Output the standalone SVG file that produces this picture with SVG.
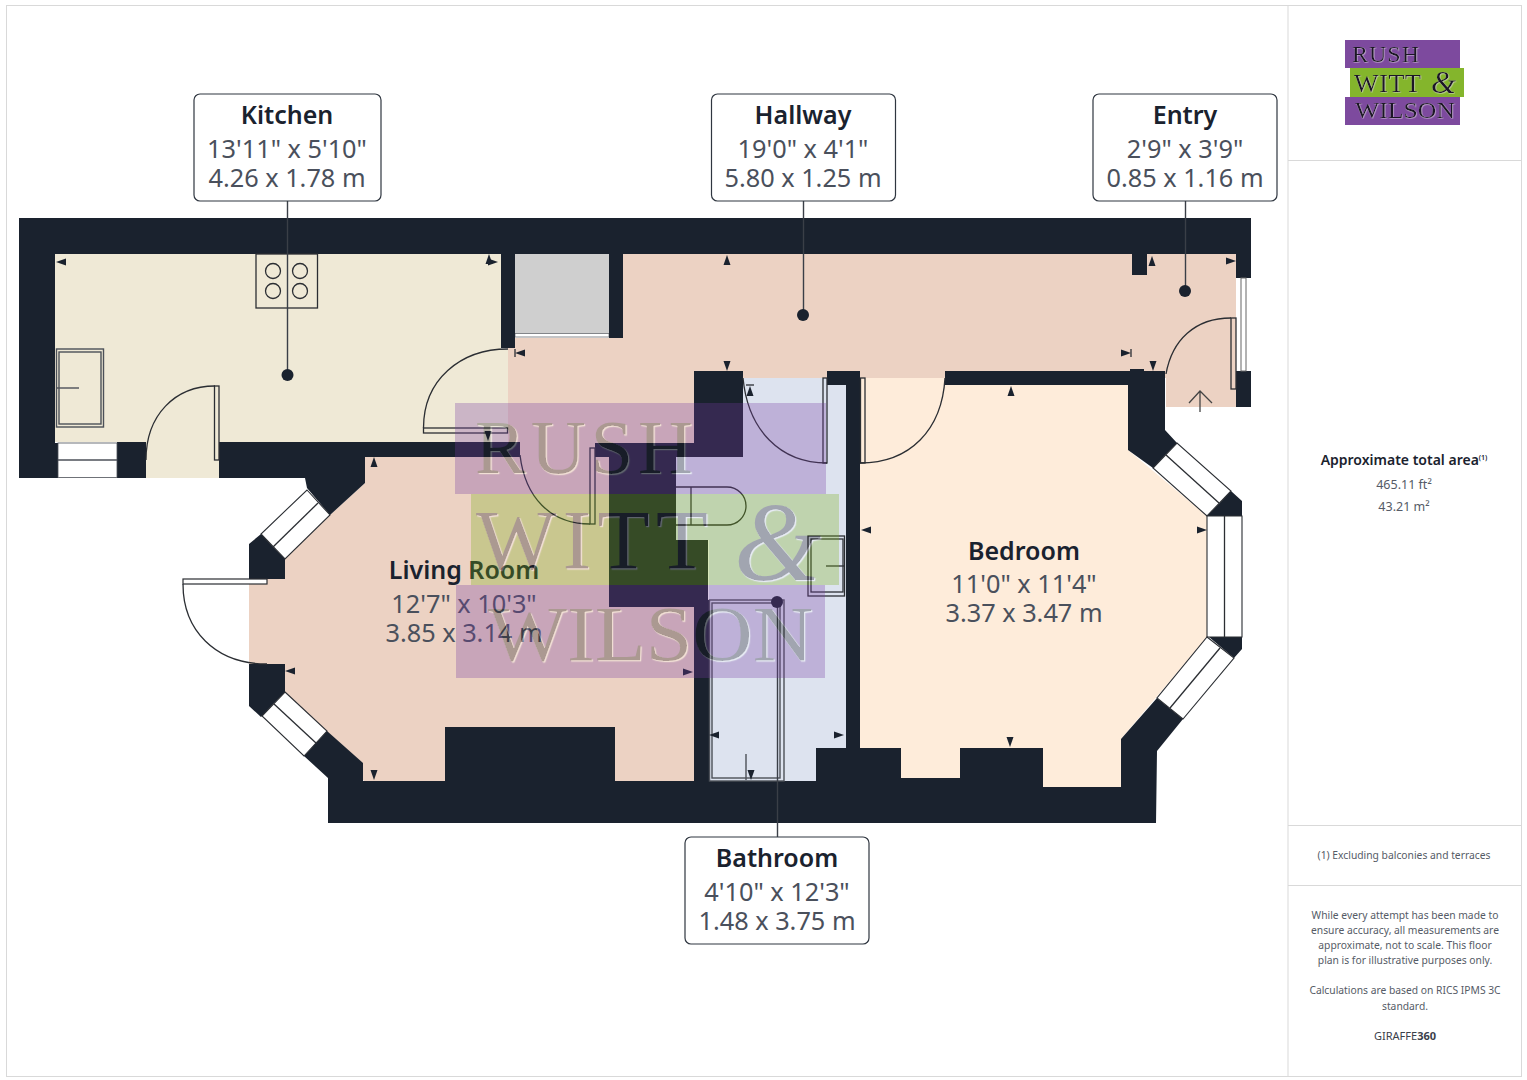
<svg xmlns="http://www.w3.org/2000/svg" width="1527" height="1080" viewBox="0 0 1527 1080">
<style>
text{font-family:"Noto Sans","Open Sans","Liberation Sans",sans-serif;text-anchor:middle}
.w{fill:#1a222e}
.ln{fill:none;stroke:#2b2e33;stroke-width:1.3}
.gl{fill:none;stroke:#4c5058;stroke-width:1.4}
.wn{fill:#fff;stroke:#2b2e33;stroke-width:1.1}
.lead{fill:none;stroke:#3a3f47;stroke-width:1.4}
.dot{fill:#1a222e}
.box{fill:#fff;stroke:#2f3640;stroke-width:1.2}
.t{font-size:25px;font-weight:600;fill:#1a222e}
.d{font-size:25.3px;fill:#4a505c}
.p{font-size:10.3px;fill:#555b66}
.panel{stroke:#d9d9d9;stroke-width:1;fill:none}
.wm{font-family:"Liberation Serif",serif;fill:#16141e;filter:url(#hl);text-anchor:start}
.lg{font-family:"Liberation Serif",serif;fill:#1c1826;filter:url(#hl2);text-anchor:start}
</style>
<defs>
<path id="tri" d="M-5-3.500L5 0L-5 3.500Z" fill="#1a222e"/>
<filter id="hl" x="-5%" y="-5%" width="110%" height="115%"><feDropShadow dx="1.200" dy="1.200" stdDeviation="0.2" flood-color="#ffffff" flood-opacity="1"/></filter>
<filter id="hl2" x="-5%" y="-5%" width="110%" height="115%"><feDropShadow dx="0.6" dy="0.6" stdDeviation="0.2" flood-color="#e8e0ee" flood-opacity="0.7"/></filter>
</defs>
<rect width="1527" height="1080" fill="#fff"/>
<g id="panel">
<rect class="panel" x="6.500" y="5.500" width="1515" height="1071"/>
<path class="panel" d="M1288 5V1076M1288 160.500H1521M1288 825.500H1521M1288 885.500H1521"/>
</g>
<g id="rooms">
<path id="room-kitchen" fill="#efe9d6" d="M55 254H501V349H508V442H219V478H146V442H55Z"/>
<path id="room-hallway" fill="#ecd2c3" d="M623 254H1236V407H1166V378H694V443H595V457H520V443H508V338H623Z"/>
<path id="room-living" fill="#ecd2c3" d="M365 457H609V607H694V781H364L285 692V664H249V579H285V559L330 515L365 483Z"/>
<path id="room-bathroom" fill="#dde3ef" d="M743 378H846V781H709V540H676V457H743Z"/>
<path id="room-bedroom" fill="#feecda" d="M860 378H945V385H1128V450L1207 516V637L1121 739V787H1043V748H960V778H901V748H860Z"/>
<rect id="cupboard" x="515" y="254" width="94" height="81" fill="#cfcfcf"/>
<rect x="515" y="333.500" width="94" height="3.500" fill="#fff" stroke="#6a6d72" stroke-width="0.8"/>
</g>
<path id="walls" class="w" d="M19 218H1251V254H19Z
M19 254H55V443H58V478H19Z
M117 442H146V478H117Z
M219 442H520V457H365V483L330 515L307 488L305 478H219Z
M501 254H515V348H501Z
M609 254H623V338H609Z
M595 443H694V371H743V457H676V540H708V607H609V457H595Z
M694 600H709V785H694Z
M327 731L363 763V781H445V727H615V781H816V748H846V385H827V371H860V748H901V778H960V748H1043V787H1121V739L1157 698L1183 719L1157 751L1156 823H328V778L304 756Z
M945 371H1165V430L1177 443L1153 468L1128 450V385H945Z
M1130 369h14v3h-14Z
M1132 254H1147V275H1132Z
M1236 254H1251V278H1236Z
M1236 371H1251V407H1236Z
M1207 516L1231 491L1242 501V516Z
M1209 637H1242V649L1234 658Z
M261 534L249 544V579H285V559Z
M249 664H285V692L261 717L249 706Z"/>
<g id="windows">
<rect x="58" y="443" width="59" height="34.500" fill="#fff" stroke="#4c5058" stroke-width="0.8"/>
<path class="gl" d="M58 460H117"/>
<path class="wn" d="M1153 468L1177 443L1231 491L1207 516Z"/><path class="ln" d="M1166 455L1219 503"/>
<path class="wn" d="M1207 516H1242V637H1207Z"/><path class="ln" d="M1224.500 516V637"/>
<path class="wn" d="M1207 637L1234 658L1183 719L1157 698Z"/><path class="ln" d="M1220 648L1170 708"/>
<path class="wn" d="M307 490L330 515L285 559L261 534Z"/><path class="ln" d="M318 503L273 547"/>
<path class="wn" d="M285 692L327 731L304 756L262 716Z"/><path class="ln" d="M274 704L316 743"/>
<rect x="1241" y="278" width="5" height="93" fill="#fff" stroke="#666" stroke-width="1"/>
</g>
<g id="fixtures">
<rect class="gl" x="56.500" y="349" width="47" height="78"/><rect class="gl" x="59" y="352" width="42" height="72"/><path class="gl" d="M56 388H79"/>
<rect class="ln" x="256" y="254" width="61.500" height="54"/>
<g class="ln"><circle cx="273" cy="271" r="7.500"/><circle cx="300" cy="271" r="7.500"/><circle cx="273" cy="291" r="7.500"/><circle cx="300" cy="291" r="7.500"/></g>
<path class="ln" d="M676 487H727A19 19 0 0 1 727 525H676M691 487V525"/>
<rect class="ln" x="808" y="536" width="36.500" height="60"/><rect class="ln" x="811" y="539" width="32" height="53"/><path class="ln" d="M826 566H845"/>
<rect class="gl" x="709.500" y="600" width="74.500" height="181"/><rect class="gl" x="712" y="603" width="68" height="175"/><path class="gl" d="M746 754V780"/>
</g>
<g id="doors">
<rect class="ln" x="214.500" y="386" width="4.500" height="74"/><path class="ln" d="M146 460C146 415 175 386 215 386"/>
<rect class="ln" x="423.500" y="428" width="84" height="5"/><path class="ln" d="M423.500 428C423.500 380 460 349 508 349"/>
<rect class="ln" x="590" y="448" width="5" height="76"/><path class="ln" d="M520 455C525 497 550 524 590 524"/>
<rect class="ln" x="823" y="378" width="4" height="85"/><path class="ln" d="M743 378C748 430 780 463 827 463"/>
<rect class="ln" x="860.500" y="378" width="4.500" height="85"/><path class="ln" d="M945 378C942 430 910 463 860 463"/>
<rect class="ln" x="1231" y="318" width="5" height="71"/><path class="ln" d="M1231 318C1195 318 1172 340 1166 374"/>
<rect x="183" y="579" width="84" height="5" fill="#fff" stroke="#2b2e33" stroke-width="1.200"/><path class="ln" d="M183 584C183 630 215 664 267 664"/>
<path class="ln" d="M1200 412V391M1189 403L1200 391L1212 403" style="stroke:#444"/>
</g>
<g id="dim-ticks">
<use href="#tri" transform="translate(61 262) rotate(180)"/>
<use href="#tri" transform="translate(493 262)"/>
<use href="#tri" transform="translate(489 259) rotate(-90)"/>
<use href="#tri" transform="translate(520 353) rotate(180)"/>
<path class="ln" d="M515 349V357"/>
<use href="#tri" transform="translate(488 436) rotate(90)"/>
<use href="#tri" transform="translate(727 260) rotate(-90)"/>
<use href="#tri" transform="translate(727 366) rotate(90)"/>
<use href="#tri" transform="translate(1126 353)"/>
<path class="ln" d="M1131 349V357"/>
<use href="#tri" transform="translate(1152 261) rotate(-90)"/>
<use href="#tri" transform="translate(1153 366) rotate(90)"/>
<use href="#tri" transform="translate(1231 261)"/>
<use href="#tri" transform="translate(750 391) rotate(-90)"/>
<path class="ln" d="M746 385H754"/>
<use href="#tri" transform="translate(1011 391) rotate(-90)"/>
<use href="#tri" transform="translate(1010 742) rotate(90)"/>
<use href="#tri" transform="translate(866 530) rotate(180)"/>
<use href="#tri" transform="translate(1202 530)"/>
<use href="#tri" transform="translate(714 735) rotate(180)"/>
<use href="#tri" transform="translate(839 735)"/>
<use href="#tri" transform="translate(751 775) rotate(90)"/>
<use href="#tri" transform="translate(374 462) rotate(-90)"/>
<use href="#tri" transform="translate(374 775) rotate(90)"/>
<use href="#tri" transform="translate(290 671) rotate(180)"/>
<use href="#tri" transform="translate(688 672)"/>
</g>
<g id="connectors">
<path class="lead" d="M287.500 201V375"/>
<path class="lead" d="M803.500 201V315"/>
<path class="lead" d="M1185.500 201V291"/>
<path class="lead" d="M777.500 602V837"/>
<circle class="dot" cx="287.500" cy="375" r="6"/>
<circle class="dot" cx="803" cy="315" r="6"/>
<circle class="dot" cx="1185" cy="291" r="6"/>
<circle class="dot" cx="777" cy="602" r="6"/>
</g>
<g id="node-kitchen">
<rect class="box" x="194" y="94" width="187" height="107" rx="6"/>
<text class="t" x="287" y="124">Kitchen</text><text class="d" x="287" y="158">13'11" x 5'10"</text><text class="d" x="287" y="187">4.26 x 1.78 m</text>
</g>
<g id="node-hallway">
<rect class="box" x="711.500" y="94" width="184" height="107" rx="6"/>
<text class="t" x="803" y="124">Hallway</text><text class="d" x="803" y="158">19'0" x 4'1"</text><text class="d" x="803" y="187">5.80 x 1.25 m</text>
</g>
<g id="node-entry">
<rect class="box" x="1093" y="94" width="184" height="107" rx="6"/>
<text class="t" x="1185" y="124">Entry</text><text class="d" x="1185" y="158">2'9" x 3'9"</text><text class="d" x="1185" y="187">0.85 x 1.16 m</text>
</g>
<g id="node-bathroom">
<rect class="box" x="685" y="837" width="184" height="107" rx="6"/>
<text class="t" x="777" y="867">Bathroom</text><text class="d" x="777" y="901">4'10" x 12'3"</text><text class="d" x="777" y="930">1.48 x 3.75 m</text>
</g>
<g id="node-living">
<text class="t" x="464" y="579">Living Room</text><text class="d" x="464" y="613">12'7" x 10'3"</text><text class="d" x="464" y="642">3.85 x 3.14 m</text>
</g>
<g id="node-bedroom">
<text class="t" x="1024" y="560">Bedroom</text><text class="d" x="1024" y="593">11'0" x 11'4"</text><text class="d" x="1024" y="622">3.37 x 3.47 m</text>
</g>
<g id="watermark" opacity="0.3">
<rect x="455" y="403" width="371" height="91" fill="#753fa0"/>
<rect x="471" y="494" width="368" height="91" fill="#78af14"/>
<rect x="456" y="585" width="369" height="93" fill="#753fa0"/>
<text class="wm" x="475" y="473" font-size="76" textLength="218" lengthAdjust="spacing">RUSH</text>
<text class="wm" x="476" y="569" font-size="85" textLength="232" lengthAdjust="spacing">WITT</text>
<text class="wm" x="734" y="580" font-size="112" font-style="italic">&amp;</text>
<text class="wm" x="488" y="660" font-size="78" textLength="325" lengthAdjust="spacingAndGlyphs">WILSON</text>
</g>
<g id="logo">
<rect x="1345" y="40" width="115" height="28" fill="#7d4a9e"/>
<rect x="1350" y="68" width="114" height="29" fill="#84b52c"/>
<rect x="1345" y="97" width="115" height="28" fill="#7d4a9e"/>
<text class="lg" x="1352" y="62" font-size="24" textLength="67" lengthAdjust="spacing">RUSH</text>
<text class="lg" x="1354" y="92" font-size="26" textLength="67" lengthAdjust="spacing">WITT</text>
<text class="lg" x="1431" y="93" font-size="32" font-style="italic">&amp;</text>
<text class="lg" x="1355" y="118" font-size="23" textLength="100" lengthAdjust="spacingAndGlyphs">WILSON</text>
</g>
<g id="area">
<text x="1404" y="465" font-size="14" font-weight="600" fill="#1a222e">Approximate total area<tspan font-size="7" dy="-5">(1)</tspan></text>
<text x="1404" y="489" font-size="12.500" fill="#555b66">465.11 ft²</text>
<text x="1404" y="511" font-size="12.500" fill="#555b66">43.21 m²</text>
</g>
<g id="notes">
<text class="p" x="1404" y="859">(1) Excluding balconies and terraces</text>
<text class="p" x="1405" y="919">While every attempt has been made to</text>
<text class="p" x="1405" y="934">ensure accuracy, all measurements are</text>
<text class="p" x="1405" y="949">approximate, not to scale. This floor</text>
<text class="p" x="1405" y="964">plan is for illustrative purposes only.</text>
<text class="p" x="1405" y="994">Calculations are based on RICS IPMS 3C</text>
<text class="p" x="1405" y="1010">standard.</text>
<text class="p" x="1405" y="1040" style="fill:#3a404a;font-size:11px">GIRAFFE<tspan font-weight="700">360</tspan></text>
</g>
</svg>
